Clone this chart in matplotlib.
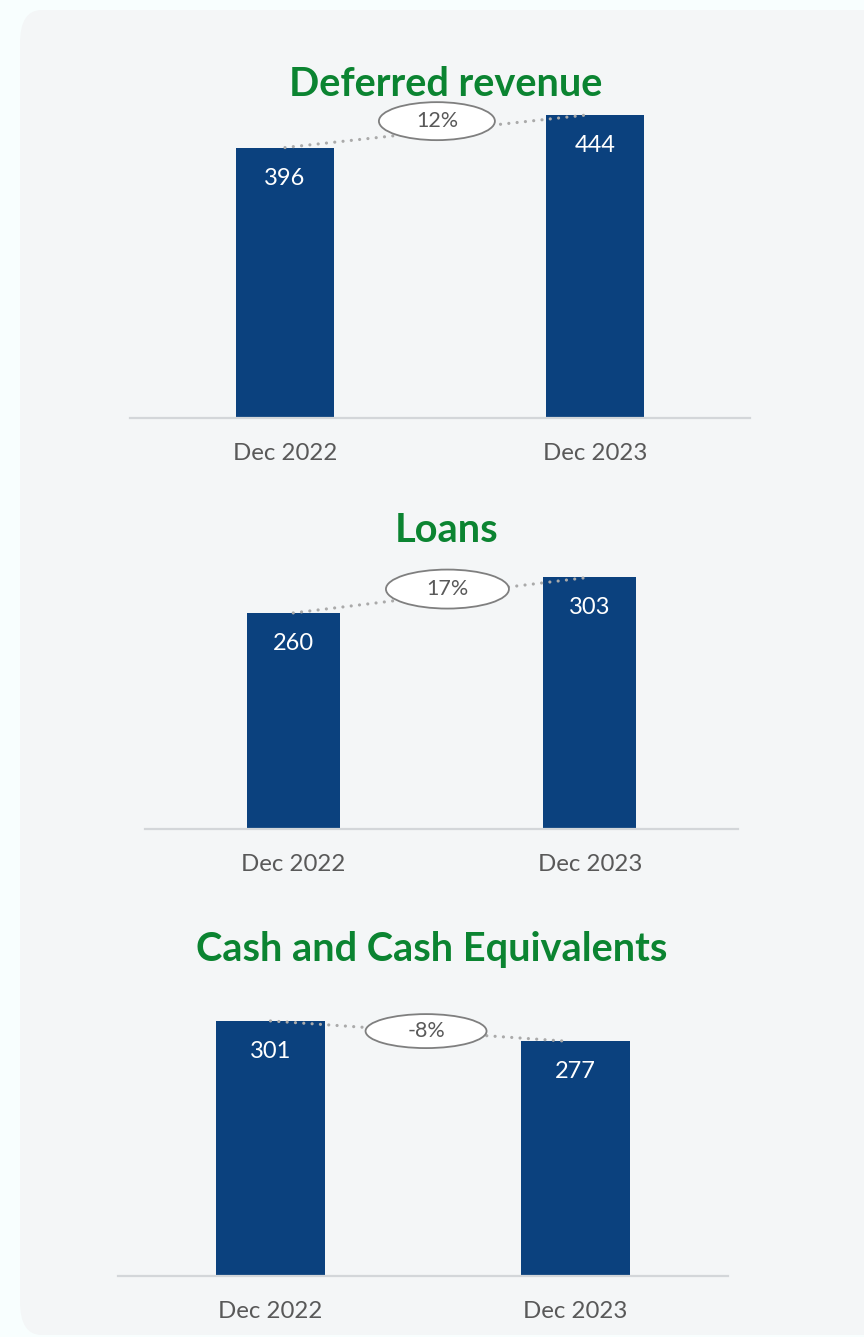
import matplotlib.pyplot as plt
from matplotlib.patches import Ellipse, FancyBboxPatch

# data
periods = ['Dec 2022', 'Dec 2023']
titles = ['Deferred revenue', 'Loans', 'Cash and Cash Equivalents']
deferred_revenue = [396, 444]
loans = [260, 303]
cash = [301, 277]
changes = ['12%', '17%', '-8%']

W, H = 864, 1337
BAR = '#0b417e'
GREEN = '#0b8431'
GREY_TXT = '#595959'
plt.rcParams['font.family'] = ['Lato', 'DejaVu Sans']

fig = plt.figure(figsize=(W / 100, H / 100), dpi=100)
fig.patch.set_facecolor('#f8fefe')
fig.patches.append(FancyBboxPatch((20 / W, 2 / H), 880 / W, 1325 / H,
                                  boxstyle='round,pad=0,rounding_size=0.025',
                                  transform=fig.transFigure, facecolor='#f4f6f7',
                                  edgecolor='none', zorder=-1))

# layout per panel (pixels): left, right, baseline, top, ymax, bar width,
# title y, title x, ellipse (dx, dy, w, h), line end x
panels = [
    dict(vals=deferred_revenue, l=130, r=750, base=418, top=100, ymax=465.6, bw=0.313,
         ty=85, tx=446, ex=0.49, ey=10, ew=116, eh=38, lx=0.98),
    dict(vals=loans, l=145, r=738, base=829, top=560, ymax=323.7, bw=0.314,
         ty=531, tx=447, ex=0.52, ey=6, ew=123, eh=39, lx=1.0),
    dict(vals=cash, l=118, r=728, base=1276, top=1000, ymax=325.7, bw=0.357,
         ty=950, tx=432, ex=0.51, ey=0, ew=121, eh=34, lx=0.974),
]

for p, title, chg in zip(panels, titles, changes):
    ax = fig.add_axes([p['l'] / W, 1 - p['base'] / H, (p['r'] - p['l']) / W,
                       (p['base'] - p['top']) / H])
    ax.set_facecolor('none')
    ax.set_xlim(-0.5, 1.5)
    ax.set_ylim(0, p['ymax'])
    ax.bar([0, 1], p['vals'], width=p['bw'], color=BAR, zorder=2)
    for s in ['top', 'right', 'left']:
        ax.spines[s].set_visible(False)
    ax.spines['bottom'].set_color('#d3d6d9')
    ax.spines['bottom'].set_linewidth(1.6)
    ax.set_yticks([])
    ax.set_xticks([0, 1])
    ax.set_xticklabels(periods, fontsize=17.3, color=GREY_TXT)
    ax.tick_params(axis='x', length=0, pad=18)

    for i, v in enumerate(p['vals']):
        ax.annotate(str(v), (i, v), xytext=(0, -22), textcoords='offset points',
                    ha='center', va='center', color='white', fontsize=17, zorder=4)

    # dotted connector
    ax.plot([0, p['lx']], p['vals'], color='#aaaaaa', lw=2.3,
            dashes=(0.01, 2.6), dash_capstyle='round', zorder=3, clip_on=False)

    # change bubble
    xs = 2.0 / (p['r'] - p['l'])
    ys = p['ymax'] / (p['base'] - p['top'])
    ey = sum(p['vals']) / 2 + p['ey'] * ys
    ax.add_patch(Ellipse((p['ex'], ey), p['ew'] * xs, p['eh'] * ys, facecolor='white',
                         edgecolor='#7f7f7f', lw=1.3, zorder=5, clip_on=False))
    ax.text(p['ex'], ey, chg, ha='center', va='center', fontsize=15.5,
            color=GREY_TXT, zorder=6)

    fig.text(p['tx'] / W, 1 - p['ty'] / H, title, ha='center', va='center',
             fontsize=28.6, fontweight='bold', color=GREEN)

fig.savefig('out.png', dpi=100, facecolor=fig.get_facecolor())
